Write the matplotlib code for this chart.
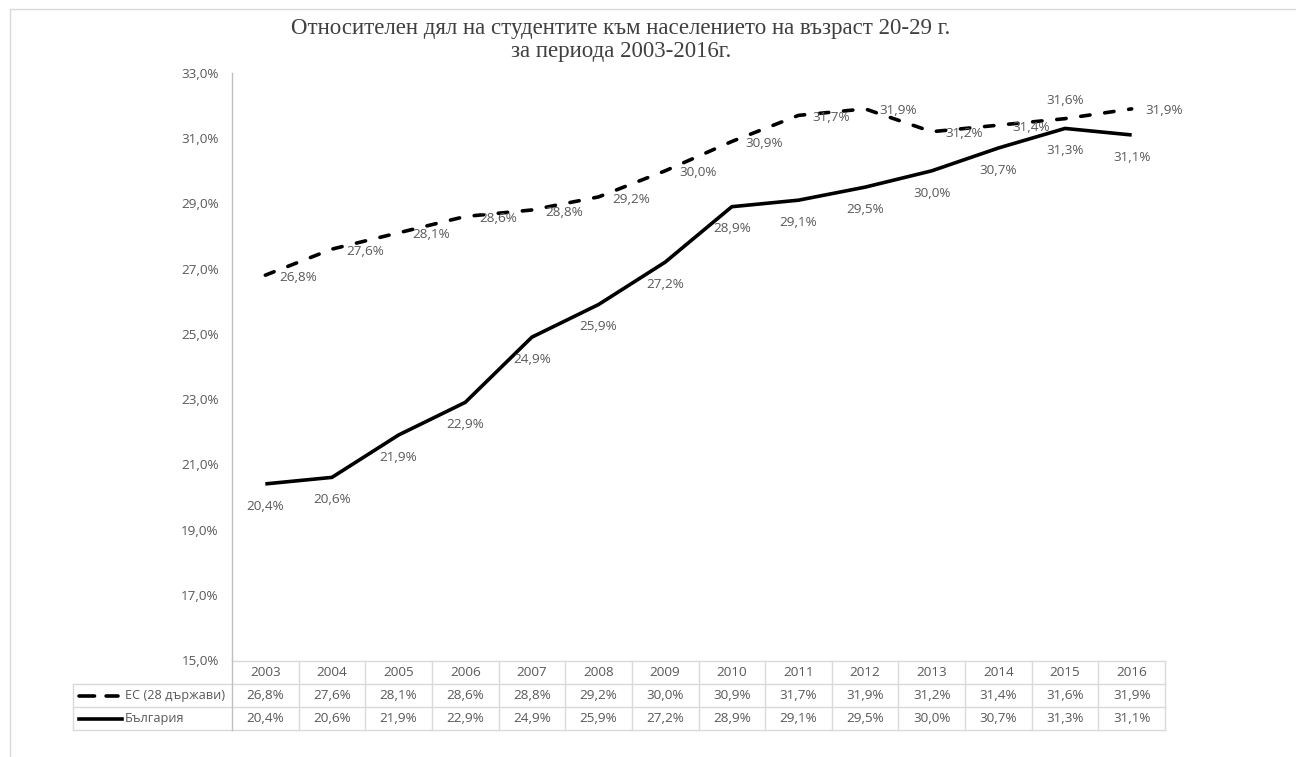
import matplotlib
matplotlib.use("Agg")
import matplotlib.pyplot as plt
import matplotlib.transforms as mtransforms
from matplotlib.lines import Line2D
from matplotlib.patches import Rectangle

# данни
years = ["2003", "2004", "2005", "2006", "2007", "2008", "2009",
         "2010", "2011", "2012", "2013", "2014", "2015", "2016"]
eu = [26.8, 27.6, 28.1, 28.6, 28.8, 29.2, 30.0, 30.9, 31.7, 31.9, 31.2, 31.4, 31.6, 31.9]
bg = [20.4, 20.6, 21.9, 22.9, 24.9, 25.9, 27.2, 28.9, 29.1, 29.5, 30.0, 30.7, 31.3, 31.1]
eu_name = "ЕС (28 държави)"
bg_name = "България"
title = "Относителен дял на студентите към населението на възраст 20-29 г.\nза периода 2003-2016г."
yticks = [15, 17, 19, 21, 23, 25, 27, 29, 31, 33]

TXT = "#595959"
GRID = "#d9d9d9"
FONT = "Open Sans"
FS = 9.7
DASH = (0, (2.6, 4.1))

def pct(v):
    return f"{v:.1f}%".replace(".", ",")

W, H = 1296, 757
fig = plt.figure(figsize=(W / 100, H / 100), dpi=100)
L, R, T, B = 232, 1165, 73, 660
ax = fig.add_axes([L / W, 1 - B / H, (R - L) / W, (B - T) / H])

x = list(range(len(years)))
ax.plot(x, eu, color="black", lw=2.6, linestyle=DASH,
        dash_capstyle="round", solid_joinstyle="round")
ax.plot(x, bg, color="black", lw=2.6, solid_capstyle="butt", solid_joinstyle="round")

ax.set_xlim(-0.5, len(years) - 0.5)
ax.set_ylim(15, 33)
ax.set_yticks(yticks)
ax.set_yticklabels([pct(v) for v in yticks], fontsize=FS, color=TXT, family=FONT)
ax.tick_params(axis="y", length=0, pad=9.5)
ax.set_xticks([])
for s in ["top", "right", "bottom"]:
    ax.spines[s].set_visible(False)
ax.spines["left"].set_color("#bfbfbf")
ax.spines["left"].set_linewidth(1)

# етикети на точките
for i, v in enumerate(eu):
    if i == 12:
        ax.annotate(pct(v), (i, v), xytext=(0, 13), textcoords="offset points",
                    ha="center", va="center", fontsize=FS, color=TXT, family=FONT)
    else:
        ax.annotate(pct(v), (i, v), xytext=(10, -1.5), textcoords="offset points",
                    ha="left", va="center", fontsize=FS, color=TXT, family=FONT)
for i, v in enumerate(bg):
    ax.annotate(pct(v), (i, v), xytext=(0, -16), textcoords="offset points",
                ha="center", va="center", fontsize=FS, color=TXT, family=FONT)

# таблица с данни под графиката
tr = mtransforms.blended_transform_factory(ax.transData, ax.transAxes)
ah = B - T
rh = 23 / ah
top0 = -1 / ah
n = len(years)
cw = (R - L) / n
xl = (73 - L) / cw - 0.5
rows_y = [top0 - k * rh for k in range(4)]
# хоризонтални линии
ax.add_line(Line2D([-0.5, n - 0.5], [rows_y[0]] * 2, transform=tr, color=GRID, lw=1, clip_on=False))
for yy in rows_y[1:]:
    ax.add_line(Line2D([xl, n - 0.5], [yy] * 2, transform=tr, color=GRID, lw=1, clip_on=False))
# вертикални линии
for k in range(1, n + 1):
    ax.add_line(Line2D([k - 0.5] * 2, [rows_y[0], rows_y[3]], transform=tr, color=GRID, lw=1, clip_on=False))
ax.add_line(Line2D([-0.5] * 2, [0, rows_y[3]], transform=tr, color="#bfbfbf", lw=1, clip_on=False))
ax.add_line(Line2D([xl] * 2, [rows_y[1], rows_y[3]], transform=tr, color=GRID, lw=1, clip_on=False))

for i, yr in enumerate(years):
    ax.text(i, (rows_y[0] + rows_y[1]) / 2, yr, transform=tr, ha="center", va="center",
            fontsize=FS, color=TXT, family=FONT)
    ax.text(i, (rows_y[1] + rows_y[2]) / 2, pct(eu[i]), transform=tr, ha="center", va="center",
            fontsize=FS, color=TXT, family=FONT)
    ax.text(i, (rows_y[2] + rows_y[3]) / 2, pct(bg[i]), transform=tr, ha="center", va="center",
            fontsize=FS, color=TXT, family=FONT)

# легенда в таблицата
lx0 = (79 - L) / cw - 0.5
ax.add_line(Line2D([lx0, (118 - L) / cw - 0.5], [(rows_y[1] + rows_y[2]) / 2] * 2, transform=tr,
                   color="black", lw=2.6, linestyle=(0, (4.3, 3.2)), dash_capstyle="round", clip_on=False))
ax.add_line(Line2D([lx0, (122 - L) / cw - 0.5], [(rows_y[2] + rows_y[3]) / 2] * 2, transform=tr,
                   color="black", lw=2.6, clip_on=False))
tx = (125 - L) / cw - 0.5
ax.text(tx, (rows_y[1] + rows_y[2]) / 2, eu_name, transform=tr, ha="left", va="center",
        fontsize=9.2, color=TXT, family=FONT)
ax.text(tx, (rows_y[2] + rows_y[3]) / 2, bg_name, transform=tr, ha="left", va="center",
        fontsize=9.2, color=TXT, family=FONT)

# заглавие
fig.text(621 / W, 1 - 40 / H, title, ha="center", va="center", fontsize=16.5,
         color="#404040", family="Liberation Serif", linespacing=1.15)

# рамка на диаграмата
fig.add_artist(Rectangle((9.5 / W, -0.1), 1.2, 1.1 - 9.5 / H, transform=fig.transFigure,
                         fill=False, edgecolor="#d9d9d9", lw=1))

fig.savefig("out.png", dpi=100, facecolor="white")
